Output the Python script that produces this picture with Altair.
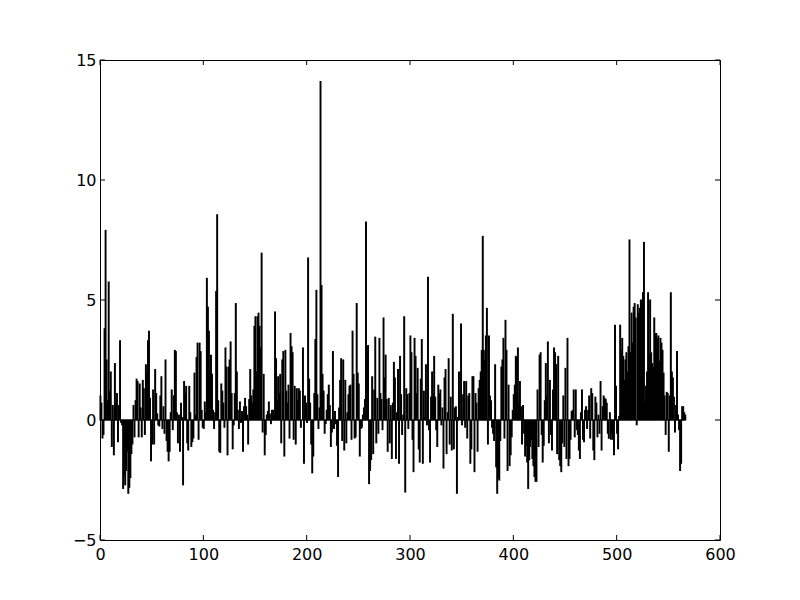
import altair as alt
import pandas as pd

# bar heights, in blocks of 50 indices
v000 = [1.0, 0.7, -0.75, -0.6, 3.8, 7.9, 2.5, 0.8, 5.75, 1.2,
        2.0, -1.1, 0.6, -1.45, 2.35, 0.7, 1.1, -0.9, 0.6, 3.3,
        -0.1, -0.2, -2.85, -2.3, -2.7, -2.1, -1.3, -3.05, -2.8, -2.4,
        -1.4, -1.0, 0.6, -0.7, 0.8, 1.7, 1.6, -0.7, 1.5, 0.5,
        -0.7, 1.65, 1.3, -0.6, 2.3, 1.9, 3.3, 3.7, 0.9, -1.7]
v050 = [-1.0, 1.25, -1.0, 2.1, 1.1, 0.25, -0.2, -0.25, 1.0, 1.8,
        -0.35, 0.55, -0.55, 2.5, -0.85, -1.3, -1.7, -1.3, 0.3, 1.25,
        -0.4, 1.0, 2.9, 2.85, 0.3, -0.95, 0.2, -1.3, 0.7, 0.1,
        -2.7, 1.6, 1.1, 1.4, -0.95, -1.25, 1.4, 0.3, -1.1, -0.9,
        -0.75, 1.95, 0.2, 2.6, 3.2, -0.8, 3.2, 2.85, 0.4, -0.3]
v100 = [-0.35, 0.75, 0.3, 5.9, 4.7, 3.7, 2.0, 2.7, 1.9, 0.4,
        -0.35, 0.3, 5.35, 8.55, 0.8, -1.3, -1.35, 1.5, 1.2, 0.7,
        -0.3, 3.0, 2.2, -1.45, 2.2, 2.5, 3.25, 1.1, -1.2, -0.2,
        1.1, 4.85, 2.0, 0.4, -0.35, 0.75, -0.1, 0.35, -1.3, 0.55,
        0.9, 0.55, 0.2, -1.0, 0.85, 2.1, 1.0, 0.7, 1.25, 3.9]
v150 = [4.3, 2.0, 4.3, 4.45, 3.9, 3.0, 6.95, -0.5, 1.9, -1.45,
        -0.6, 0.2, 0.35, 0.75, 0.25, -0.15, 0.4, 0.4, 0.2, 4.5,
        2.55, 0.8, 1.8, 1.1, 1.9, -0.95, 2.5, 2.85, -1.5, 2.9,
        1.2, 0.7, 1.45, -0.75, 3.6, 3.05, 2.8, -0.8, 1.4, -1.0,
        1.3, 0.8, 1.3, 1.2, -0.3, 0.0, 3.0, -1.8, 1.0, 0.7]
v200 = [-0.1, 6.75, 1.7, 0.7, -1.0, -2.2, -1.5, 1.1, 3.35, 5.4,
        1.05, -0.35, 0.5, 14.1, 5.6, 1.9, 1.2, -0.55, -0.15, 0.4,
        1.05, 1.45, 0.6, -1.1, -0.5, 2.85, -0.35, 0.35, -0.15, -1.05,
        -2.35, 0.5, 1.65, 2.55, -0.85, 2.5, -1.25, 1.65, -0.95, 0.3,
        1.05, 1.4, 1.45, -0.8, 3.7, 1.9, -0.75, -0.7, 4.85, 1.95]
v250 = [1.5, -1.5, -0.35, -0.3, 0.2, 0.5, 0.85, 8.25, 3.05, 3.1,
        -2.65, -2.1, -1.65, 1.8, -1.4, 1.25, 3.45, -0.95, 0.9, -0.55,
        3.4, 1.1, 0.85, -0.4, 4.25, 1.75, 2.7, 0.85, -1.3, 0.9,
        -0.95, 0.6, -1.6, 0.7, 2.4, 1.75, -1.6, 0.3, 2.1, -1.8,
        2.65, 1.05, -0.6, 0.2, 4.3, -3.0, 1.3, 1.05, -0.35, 1.1]
v300 = [3.5, 2.8, -0.8, -2.15, 3.4, 2.65, 1.1, 2.15, -1.2, -1.75,
        1.7, 3.35, -1.8, 1.2, 0.1, 2.3, -0.2, 5.95, -0.4, -1.75,
        0.95, 2.0, 1.1, 2.65, 0.95, -0.4, -1.1, 1.45, 1.1, 1.25,
        -0.2, 0.5, -2.0, 1.75, 2.1, -1.4, 0.3, 2.55, -1.0, 0.95,
        -1.25, 4.4, -1.2, 0.5, 0.55, -3.05, 0.1, 2.0, 0.0, 4.0]
v350 = [-0.2, 1.05, 1.6, -0.3, 1.6, -0.75, 1.0, 1.1, -1.8, -1.2,
        1.8, 1.8, -2.15, 1.1, 0.7, -1.3, 1.3, 1.65, 2.0, 2.9,
        7.65, 2.9, 2.5, 3.5, 4.65, -1.0, 3.5, 1.0, 0.8, -0.3,
        -0.55, -0.85, 2.3, -1.95, -3.05, -2.4, -2.5, -0.85, 2.2, 2.5,
        3.4, -0.75, 4.15, 2.9, -2.1, 1.45, -1.9, -1.45, -0.7, 0.4]
v400 = [1.05, 1.45, 2.65, 2.6, 3.0, 0.7, 1.6, 0.55, -1.0, 0.6,
        -0.55, -1.5, -1.05, -1.75, -2.85, -1.65, -1.1, -0.8, -1.6, -1.9,
        -2.35, -2.55, -2.55, 1.25, -1.1, 2.7, 2.8, -0.6, -1.75, -1.05,
        0.8, 2.35, 1.0, 3.25, -0.95, 1.65, -0.6, -1.25, 1.25, 3.0,
        2.8, 2.3, -1.4, 2.65, -1.65, -1.9, -2.15, -0.95, 1.0, -1.1]
v450 = [2.15, -1.6, 3.4, -1.9, -1.6, -0.8, 0.35, 0.4, 1.25, -0.7,
        1.25, -0.4, -0.6, -1.25, -1.6, 0.3, 1.25, -0.8, -0.9, 0.4,
        0.55, -0.35, 0.4, 1.0, -0.75, 1.3, 1.1, -1.25, -1.65, 0.95,
        0.7, -0.7, 0.2, -0.55, 1.6, -1.25, 0.55, 1.0, 0.9, 0.85,
        0.7, -0.55, -0.76, 0.3, -0.8, -0.5, -0.8, -1.45, 3.95, 1.4]
v500 = [-0.55, -1.2, 0.15, 3.95, 2.9, 3.4, 2.65, 1.65, 2.5, 2.8,
        2.0, 3.05, 7.5, 2.8, 4.45, 3.2, 4.7, 4.85, 4.25, -0.2,
        4.8, 4.45, 4.65, 5.0, 4.95, 5.3, 7.4, 0.75, 1.4, 2.0,
        5.3, 2.7, 5.0, 2.8, 2.35, 2.2, 4.25, 3.6, 3.6, 3.4,
        3.5, 2.45, 3.4, 3.2, 2.9, 1.95, 1.0, -0.6, 1.15, 1.1,
        -1.3, 1.0, 5.3, 2.0, 1.75, 0.95, -0.5, 0.6, 2.85, 0.2,
        -0.4, -2.1, -1.8, 0.55, 0.55, 0.3, 0.2]

x_ticks = [0, 100, 200, 300, 400, 500, 600]
y_ticks = [-5, 0, 5, 10, 15]

values = v000 + v050 + v100 + v150 + v200 + v250 + v300 + v350 + v400 + v450 + v500
df = pd.DataFrame({"x": list(range(len(values))), "v": values})
xt = pd.DataFrame({"t": x_ticks})
yt = pd.DataFrame({"t": y_ticks})

W, H = 620, 480
TL = 5
FONT = "DejaVu Sans"

xs = alt.Scale(domain=[0, 600], nice=False, zero=False)
ys = alt.Scale(domain=[-5, 15], nice=False, zero=False)
ax_x = alt.Axis(values=x_ticks, format="d", labelPadding=6, labelFlush=False, title=None)
ax_y = alt.Axis(values=y_ticks, format="d", labelPadding=4, labelFlush=False, title=None)

bars = alt.Chart(df).transform_calculate(
    x2="datum.x + 0.8", zero="0"
).mark_bar(color="black", stroke="black", strokeWidth=1.1).encode(
    x=alt.X("x:Q", scale=xs, axis=ax_x),
    x2="x2:Q",
    y=alt.Y("v:Q", scale=ys, axis=ax_y),
    y2="zero:Q",
)

xb = alt.Chart(xt).mark_rule(color="black", strokeWidth=1).encode(
    x=alt.X("t:Q", scale=xs, axis=ax_x), y=alt.value(H), y2=alt.value(H - TL))
xtp = alt.Chart(xt).mark_rule(color="black", strokeWidth=1).encode(
    x=alt.X("t:Q", scale=xs, axis=ax_x), y=alt.value(0), y2=alt.value(TL))
yl = alt.Chart(yt).mark_rule(color="black", strokeWidth=1).encode(
    y=alt.Y("t:Q", scale=ys, axis=ax_y), x=alt.value(0), x2=alt.value(TL))
yr = alt.Chart(yt).mark_rule(color="black", strokeWidth=1).encode(
    y=alt.Y("t:Q", scale=ys, axis=ax_y), x=alt.value(W), x2=alt.value(W - TL))

chart = alt.layer(bars, xb, xtp, yl, yr).properties(
    width=W, height=H,
    padding={"left": 92, "top": 52, "right": 72, "bottom": 52},
    autosize=alt.AutoSizeParams(type="none"),
    background="white",
).configure_view(
    stroke="black", strokeWidth=1
).configure_axis(
    domain=False, ticks=False, grid=False,
    labelFont=FONT, labelFontSize=16, labelColor="black",
)

chart.save("out.html", embed_options={"renderer": "svg", "actions": False})
